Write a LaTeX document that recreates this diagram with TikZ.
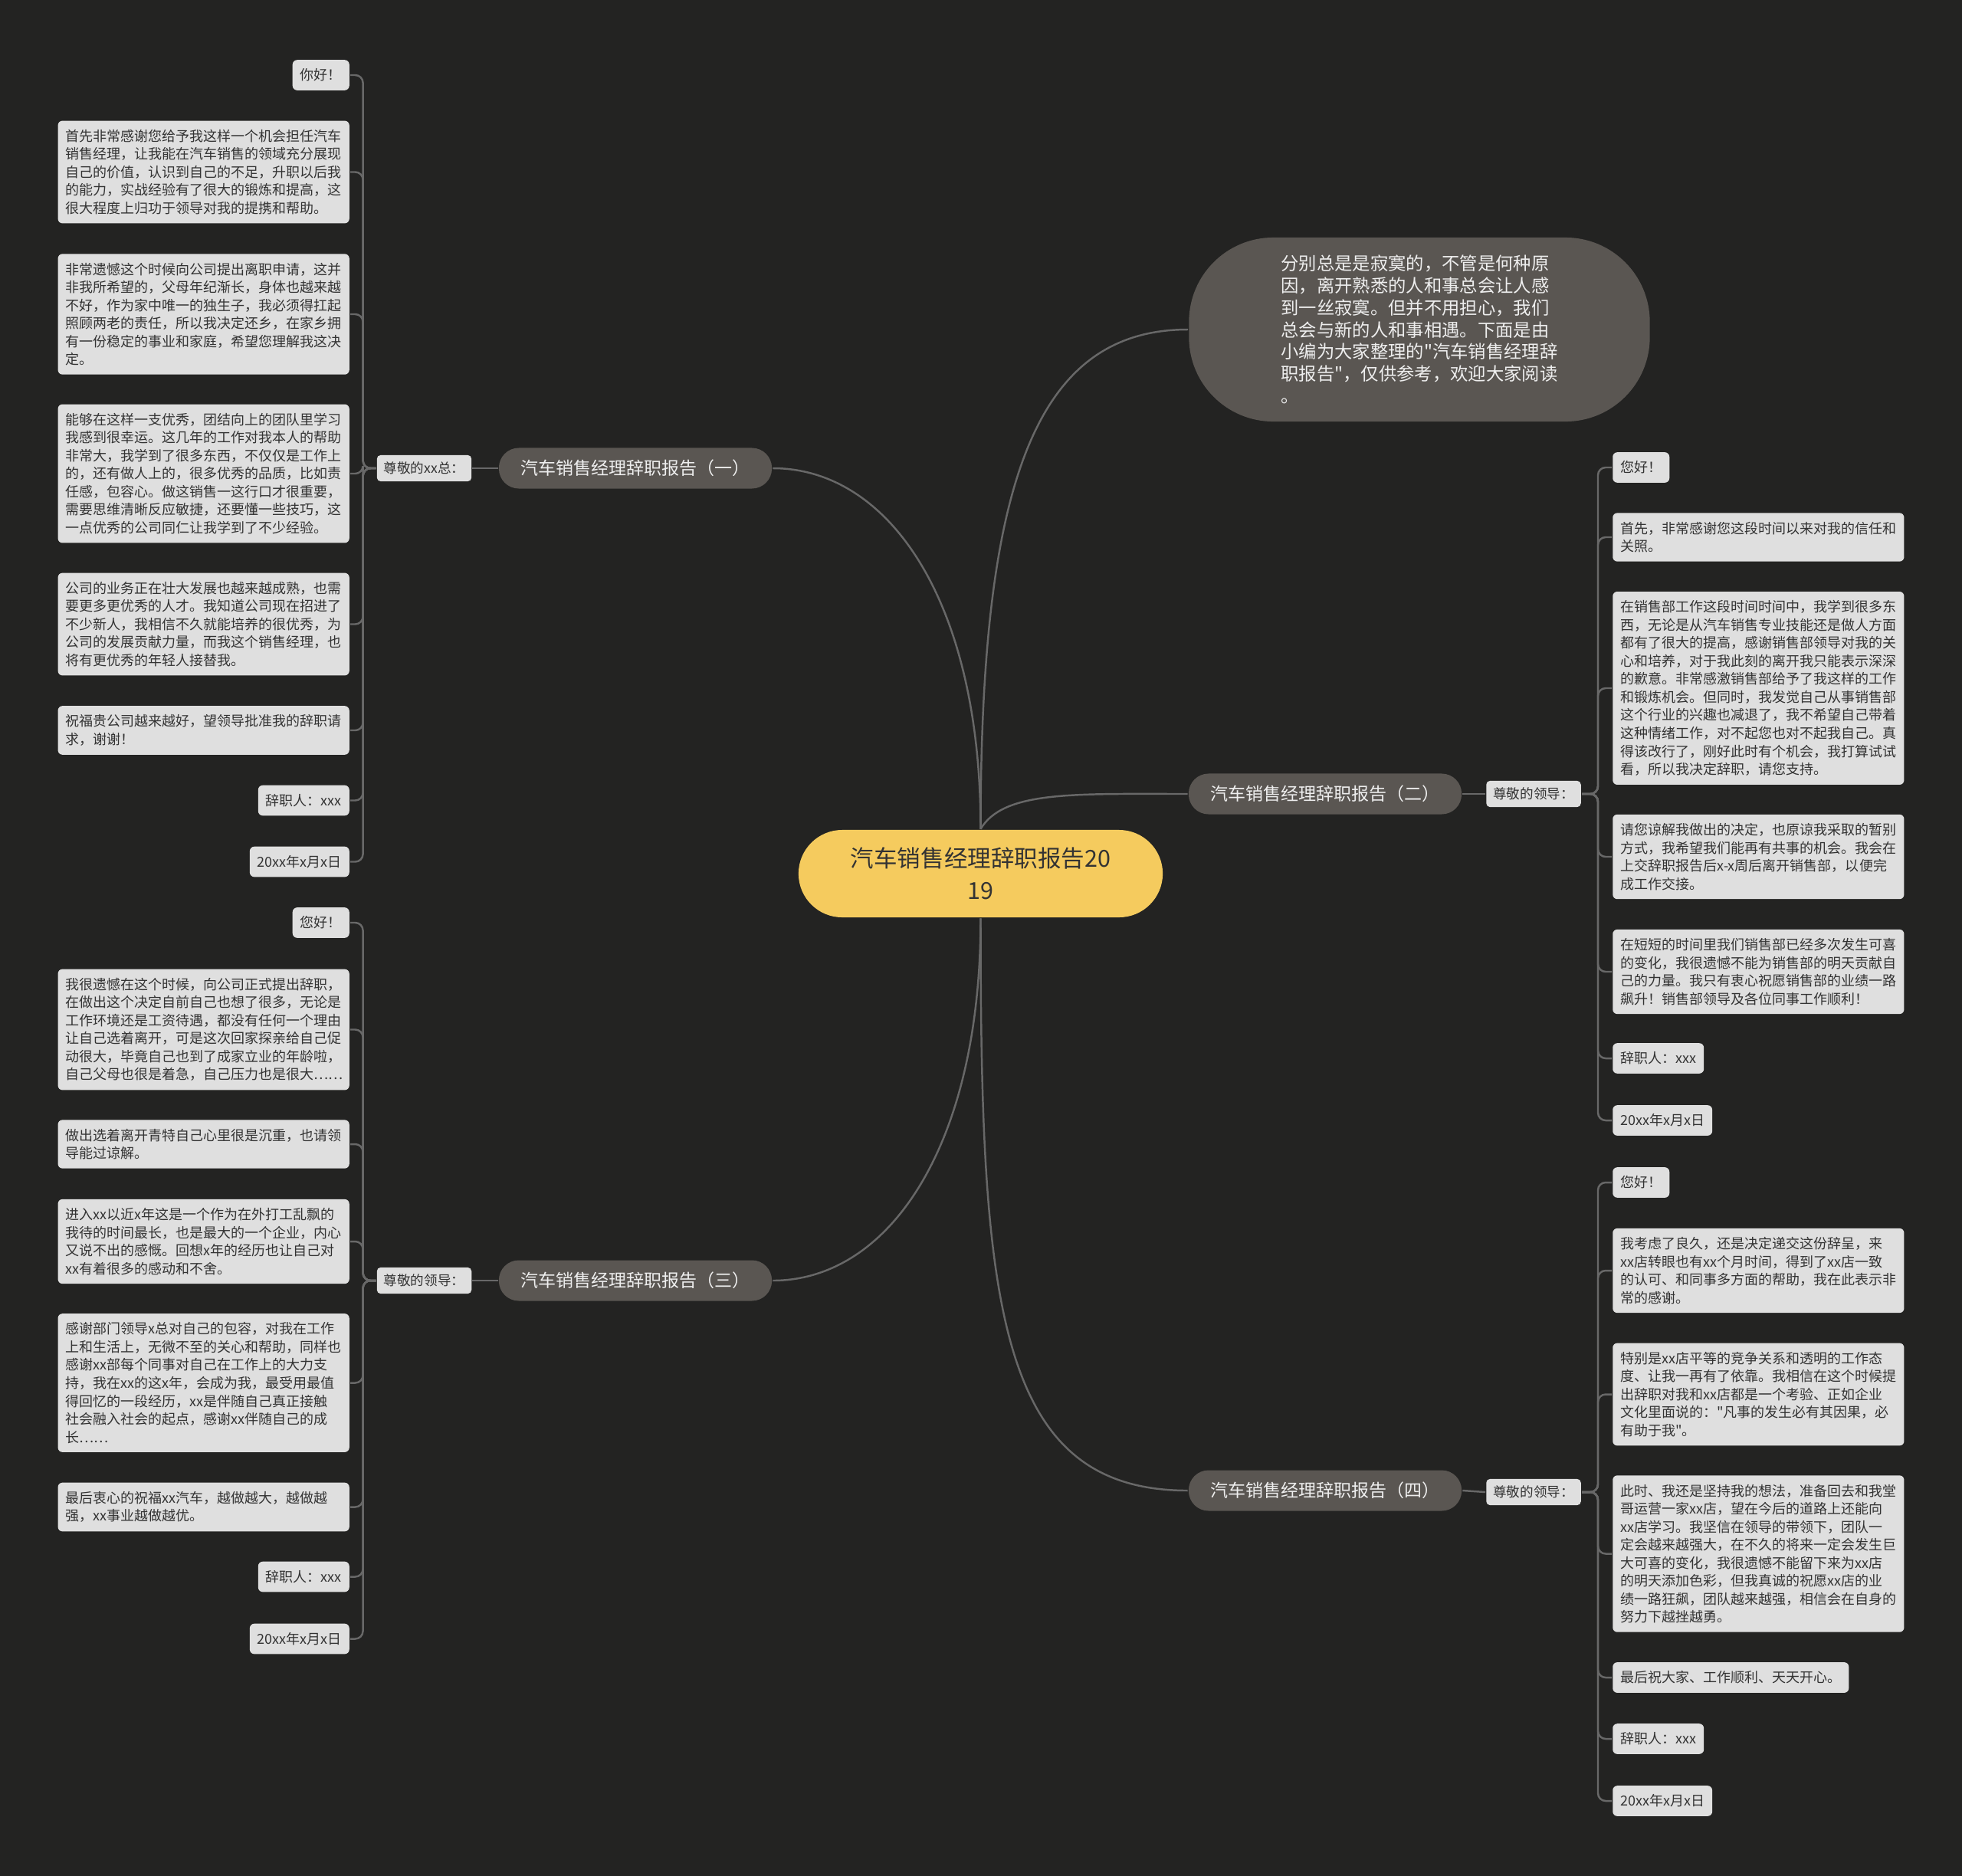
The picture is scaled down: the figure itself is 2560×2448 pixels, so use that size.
\documentclass[tikz,border=0pt]{standalone}
\usepackage{fontspec}
\setmainfont{Noto Sans CJK SC}
\definecolor{bgdark}{HTML}{232322}
\definecolor{leafgray}{HTML}{DFDFDF}
\definecolor{inkdark}{HTML}{333333}
\definecolor{inklight}{HTML}{EEEEEE}
\definecolor{branchgray}{HTML}{5A5652}
\definecolor{hubyellow}{HTML}{F5CB5E}
\definecolor{linegray}{HTML}{686868}
\newcommand\leaffont{\fontsize{5.12pt}{6.69pt}\selectfont}
\newcommand\leadfont{\fontsize{5pt}{6pt}\selectfont}
\newcommand\branchfont{\fontsize{6.55pt}{8pt}\selectfont}
\newcommand\bubblefont{\fontsize{6.63pt}{8.17pt}\selectfont}
\newcommand\hubfont{\fontsize{8.68pt}{11.95pt}\selectfont}
\newcommand\sq{\textquotedbl{}}
\begin{document}
\begin{tikzpicture}[
  x=0.01cm, y=-0.01cm,
  line width=0.7pt,
  conn/.style={draw=linegray, rounded corners=0.1cm},
  leaf/.style={fill=leafgray, text=inkdark, rounded corners=0.06cm,
    inner xsep=0.1cm, inner ysep=0.115cm, align=left, font=\leaffont},
  leafwide/.style={leaf, text width=3.6cm},
  salute/.style={fill=leafgray, text=inkdark, rounded corners=0.05cm,
    inner xsep=0.09cm, inner ysep=0.09cm, font=\leadfont},
  branch/.style={fill=branchgray, text=inklight, rounded corners=0.26cm,
    minimum width=3.56cm, minimum height=0.53cm, font=\branchfont},
]
\useasboundingbox (0,0) rectangle (2560,2448);
\fill[bgdark] (0,0) rectangle (2560,2448);

% centre, intro and the four reports
\node[fill=hubyellow, text=inkdark, rounded corners=0.57cm, minimum width=4.75cm,
  minimum height=1.14cm, align=center, font=\hubfont] (hub) at (1279.5,1140)
  {汽车销售经理辞职报告20\\19};
\node[fill=branchgray, text=inklight, rounded corners=1.1cm, minimum width=6.01cm,
  minimum height=2.4cm, align=left, font=\bubblefont] (intro) at (1852,430)
  {分别总是是寂寞的，不管是何种原\\因，离开熟悉的人和事总会让人感\\到一丝寂寞。但并不用担心，我们\\总会与新的人和事相遇。下面是由\\小编为大家整理的\sq 汽车销售经理辞\\职报告\sq ，仅供参考，欢迎大家阅读\\。};
\node[branch] (br1) at (829,611) {汽车销售经理辞职报告（一）};
\node[branch] (br2) at (1729,1036) {汽车销售经理辞职报告（二）};
\node[branch] (br3) at (829,1671) {汽车销售经理辞职报告（三）};
\node[branch] (br4) at (1729,1945) {汽车销售经理辞职报告（四）};
\node[salute] (sal1) at (553.5,611) {尊敬的xx总：};
\node[salute] (sal2) at (2001,1036) {尊敬的领导：};
\node[salute] (sal3) at (553.5,1671) {尊敬的领导：};
\node[salute] (sal4) at (2001,1947) {尊敬的领导：};

\draw[conn] (hub.north) .. controls +(0,-450) and +(-200,0) .. (intro.west);
\draw[conn] (hub.north) .. controls +(0,-300) and +(150,0) .. (br1.east);
\draw[conn] (hub.north) .. controls +(30,-50) and +(-150,0) .. (br2.west);
\draw[conn] (hub.south) .. controls +(0,300) and +(150,0) .. (br3.east);
\draw[conn] (hub.south) .. controls +(0,500) and +(-250,0) .. (br4.west);
\draw[conn] (br1.west) -- (sal1.east);
\draw[conn] (br2.east) -- (sal2.west);
\draw[conn] (br3.west) -- (sal3.east);
\draw[conn] (br4.east) -- (sal4.west);

% report one
\node[leaf, anchor=east] (a1) at (457,98) {你好！};
\node[leafwide, anchor=east] (a2) at (457,224.5) {首先非常感谢您给予我这样一个机会担任汽车\\销售经理，让我能在汽车销售的领域充分展现\\自己的价值，认识到自己的不足，升职以后我\\的能力，实战经验有了很大的锻炼和提高，这\\很大程度上归功于领导对我的提携和帮助。};
\node[leafwide, anchor=east] (a3) at (457,410) {非常遗憾这个时候向公司提出离职申请，这并\\非我所希望的，父母年纪渐长，身体也越来越\\不好，作为家中唯一的独生子，我必须得扛起\\照顾两老的责任，所以我决定还乡，在家乡拥\\有一份稳定的事业和家庭，希望您理解我这决\\定。};
\node[leafwide, anchor=east] (a4) at (457,618) {能够在这样一支优秀，团结向上的团队里学习\\我感到很幸运。这几年的工作对我本人的帮助\\非常大，我学到了很多东西，不仅仅是工作上\\的，还有做人上的，很多优秀的品质，比如责\\任感，包容心。做这销售一这行口才很重要，\\需要思维清晰反应敏捷，还要懂一些技巧，这\\一点优秀的公司同仁让我学到了不少经验。};
\node[leafwide, anchor=east] (a5) at (457,814.5) {公司的业务正在壮大发展也越来越成熟，也需\\要更多更优秀的人才。我知道公司现在招进了\\不少新人，我相信不久就能培养的很优秀，为\\公司的发展贡献力量，而我这个销售经理，也\\将有更优秀的年轻人接替我。};
\node[leafwide, anchor=east] (a6) at (457,953) {祝福贵公司越来越好，望领导批准我的辞职请\\求，谢谢！};
\node[leaf, anchor=east] (a7) at (457,1044.5) {辞职人：xxx};
\node[leaf, anchor=east] (a8) at (457,1124.5) {20xx年x月x日};
\foreach \i in {1,...,8} {
  \draw[conn] (sal1.west) -- ++(-17,0) |- (a\i.east);
}

% report two
\node[leaf, anchor=west] (b1) at (2103,610) {您好！};
\node[leafwide, anchor=west] (b2) at (2103,701) {首先，非常感谢您这段时间以来对我的信任和\\关照。};
\node[leafwide, anchor=west] (b3) at (2103,898) {在销售部工作这段时间时间中，我学到很多东\\西，无论是从汽车销售专业技能还是做人方面\\都有了很大的提高，感谢销售部领导对我的关\\心和培养，对于我此刻的离开我只能表示深深\\的歉意。非常感激销售部给予了我这样的工作\\和锻炼机会。但同时，我发觉自己从事销售部\\这个行业的兴趣也减退了，我不希望自己带着\\这种情绪工作，对不起您也对不起我自己。真\\得该改行了，刚好此时有个机会，我打算试试\\看，所以我决定辞职，请您支持。};
\node[leafwide, anchor=west] (b4) at (2103,1118) {请您谅解我做出的决定，也原谅我采取的暂别\\方式，我希望我们能再有共事的机会。我会在\\上交辞职报告后x-x周后离开销售部，以便完\\成工作交接。};
\node[leafwide, anchor=west] (b5) at (2103,1268) {在短短的时间里我们销售部已经多次发生可喜\\的变化，我很遗憾不能为销售部的明天贡献自\\己的力量。我只有衷心祝愿销售部的业绩一路\\飙升！销售部领导及各位同事工作顺利！};
\node[leaf, anchor=west] (b6) at (2103,1381) {辞职人：xxx};
\node[leaf, anchor=west] (b7) at (2103,1462) {20xx年x月x日};
\foreach \i in {1,...,7} {
  \draw[conn] (sal2.east) -- ++(21,0) |- (b\i.west);
}

% report three
\node[leaf, anchor=east] (c1) at (457,1204) {您好！};
\node[leafwide, anchor=east] (c2) at (457,1343.5) {我很遗憾在这个时候，向公司正式提出辞职，\\在做出这个决定自前自己也想了很多，无论是\\工作环境还是工资待遇，都没有任何一个理由\\让自己选着离开，可是这次回家探亲给自己促\\动很大，毕竟自己也到了成家立业的年龄啦，\\自己父母也很是着急，自己压力也是很大……};
\node[leafwide, anchor=east] (c3) at (457,1493) {做出选着离开青特自己心里很是沉重，也请领\\导能过谅解。};
\node[leafwide, anchor=east] (c4) at (457,1620) {进入xx以近x年这是一个作为在外打工乱飘的\\我待的时间最长，也是最大的一个企业，内心\\又说不出的感慨。回想x年的经历也让自己对\\xx有着很多的感动和不舍。};
\node[leafwide, anchor=east] (c5) at (457,1804.5) {感谢部门领导x总对自己的包容，对我在工作\\上和生活上，无微不至的关心和帮助，同样也\\感谢xx部每个同事对自己在工作上的大力支\\持，我在xx的这x年，会成为我，最受用最值\\得回忆的一段经历，xx是伴随自己真正接触\\社会融入社会的起点，感谢xx伴随自己的成\\长……};
\node[leafwide, anchor=east] (c6) at (457,1966.5) {最后衷心的祝福xx汽车，越做越大，越做越\\强，xx事业越做越优。};
\node[leaf, anchor=east] (c7) at (457,2057.5) {辞职人：xxx};
\node[leaf, anchor=east] (c8) at (457,2138.5) {20xx年x月x日};
\foreach \i in {1,...,8} {
  \draw[conn] (sal3.west) -- ++(-17,0) |- (c\i.east);
}

% report four
\node[leaf, anchor=west] (d1) at (2103,1543) {您好！};
\node[leafwide, anchor=west] (d2) at (2103,1658) {我考虑了良久，还是决定递交这份辞呈，来\\xx店转眼也有xx个月时间，得到了xx店一致\\的认可、和同事多方面的帮助，我在此表示非\\常的感谢。};
\node[leafwide, anchor=west] (d3) at (2103,1819.5) {特别是xx店平等的竞争关系和透明的工作态\\度、让我一再有了依靠。我相信在这个时候提\\出辞职对我和xx店都是一个考验、正如企业\\文化里面说的：\sq 凡事的发生必有其因果，必\\有助于我\sq 。};
\node[leafwide, anchor=west] (d4) at (2103,2027.5) {此时、我还是坚持我的想法，准备回去和我堂\\哥运营一家xx店，望在今后的道路上还能向\\xx店学习。我坚信在领导的带领下，团队一\\定会越来越强大，在不久的将来一定会发生巨\\大可喜的变化，我很遗憾不能留下来为xx店\\的明天添加色彩，但我真诚的祝愿xx店的业\\绩一路狂飙，团队越来越强，相信会在自身的\\努力下越挫越勇。};
\node[leaf, anchor=west] (d5) at (2103,2189) {最后祝大家、工作顺利、天天开心。};
\node[leaf, anchor=west] (d6) at (2103,2269) {辞职人：xxx};
\node[leaf, anchor=west] (d7) at (2103,2350) {20xx年x月x日};
\foreach \i in {1,...,7} {
  \draw[conn] (sal4.east) -- ++(21,0) |- (d\i.west);
}

\end{tikzpicture}
\end{document}
